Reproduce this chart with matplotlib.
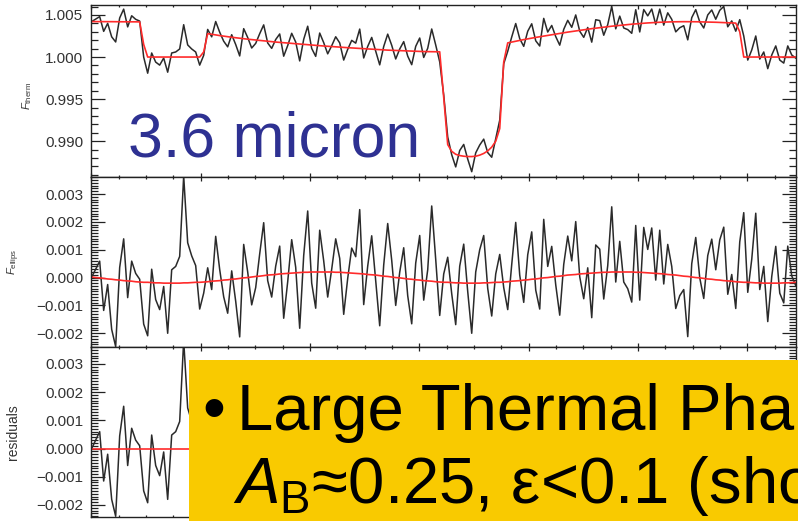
import numpy as np
import matplotlib
matplotlib.use("Agg")
import matplotlib.pyplot as plt
import matplotlib.patches as patches
from matplotlib.ticker import MultipleLocator, FuncFormatter

plt.rcParams['font.family'] = ['Liberation Sans', 'DejaVu Sans']
plt.rcParams['mathtext.fontset'] = 'custom'
plt.rcParams['mathtext.rm'] = 'Liberation Sans'
plt.rcParams['mathtext.it'] = 'Liberation Sans:italic'

# time grid (days), one point per binned frame
n_pts = 177
t = 0.00055 + 0.00732 * np.arange(n_pts)

# thermal phase-curve model, in units of 1e-5 above 1
therm_model = [421, 421, 420, 420, 420, 420, 419, 419, 419, 418, 418, 418,
               417, 150,
               0, 0, 0, 0, 0, 0, 0, 0, 0, 0, 0, 0, 0, 0,
               60,
               278, 270, 262, 255, 248, 241, 235, 229, 223, 217,
               212, 207, 202, 197, 192, 187, 183, 178, 174, 170,
               166, 162, 158, 154, 150, 146, 142, 138, 135, 131,
               128, 124, 121, 118, 114, 111, 108, 105, 102, 99,
               96, 93, 90, 87, 85, 82, 80, 77, 75, 73,
               71, 69, 67, 66, 65, 64, 63, 63, 62,
               -480,
               -1040, -1120, -1155, -1170, -1178, -1182, -1182, -1178, -1165, -1145,
               -1115, -1070, -1000, -850, -60,
               168, 178, 188, 198, 207, 216, 225, 233, 241, 249,
               257, 265, 273, 281, 289, 296, 303, 310, 317, 324,
               331, 337, 343, 349, 355, 361, 366, 371, 376, 381,
               386, 390, 394, 398, 402, 405, 408, 411, 413, 415,
               417, 418, 419, 420, 420, 420, 420, 419, 418, 417,
               416, 415, 413, 411, 409, 407, 405, 403,
               300,
               0, 0, 0, 0, 0, 0, 0, 0, 0, 0, 0, 0, 0, 0]

# ellipsoidal model, units of 1e-5
ellips_model = [2, 0, -1, -3, -5, -6, -8, -9, -11, -12, -13, -15, -16, -17, -17, -18, -19, -19, -20, -20,
                -20, -20, -20, -19, -19, -18, -17, -17, -16, -15, -13, -12, -11, -9, -8, -6, -5, -3, -1,
                0, 2, 4, 5, 7, 9, 10, 11, 13, 14, 15, 16, 17, 18, 19, 19, 20, 20, 20,
                20, 20, 20, 19, 19, 18, 17, 16, 15, 14, 13, 11, 10, 9, 7, 5, 4, 2, 0,
                -1, -3, -5, -6, -8, -9, -11, -12, -13, -15, -16, -17, -17, -18, -19, -19, -20, -20,
                -20, -20, -20, -19, -19, -18, -17, -17, -16, -15, -13, -12, -11, -9, -8, -6, -5, -3, -1,
                0, 2, 4, 5, 7, 9, 10, 11, 13, 14, 15, 16, 17, 18, 19, 19, 20, 20, 20,
                20, 20, 20, 19, 19, 18, 17, 16, 15, 14, 13, 11, 10, 9, 7, 5, 4, 2, 0,
                -1, -3, -5, -6, -8, -9, -11, -12, -13, -15, -16, -17, -17, -18, -19, -19, -20, -20,
                -20, -20, -20, -19, -19, -18, -17]

# residuals, units of 1e-5
resid = [0, 30, 60, -115, -20, -180, -240, 45, 150, -60, 72, 30, 10, -150, -192, 48, -60, -96, -12, -180,
         48, 60, 96, 384,
         144, 96, 60, -96, -40, 50, -30, 160, 40, -60,
         -120, 30, -80, -210, 120, 20, -100, -40, 80, 190,
         -20, -80, 30, 100, -160, -30, 120, 20, -200, 60,
         220, -40, -130, 150, 40, -90, 10, 120, 50, -150,
         -20, 90, 60, 230, -110, 30, 140, -20, -180, 40,
         190, 60, -100, 20, 110, -60, -160, 60, 160, -70,
         40, 270, 80, -120, 30, 90, -40, -150, 60, 140,
         -30, -180, 40, 120, 170, -20, -120, 30, 100, -20,
         -100, 60, 210, 20, -80, 90, 170, -40, -110, 210,
         40, 110, -30, -140, 40, 140, 50, 190, -10, -90,
         20, -160, 100,
         84, -96, 24, 234, -36, 110, -36, -60, -108, 168,
         -100, 162, 84, 162, -24, 156, -36, 108, 30, -120,
         -72, -48, -216, 48, 144, 0, -72, 84, 144, 36,
         144, 192, -48, 24, -96, 144, 250, -36, 84, 250,
         -24, 60, -138, 24, 132, -36, -72, 132, 24, -12]

unit = 1e-5
therm_model = 1 + np.array(therm_model) * unit
ellips_model = np.array(ellips_model) * unit
resid = np.array(resid) * unit
therm_flux = therm_model + resid
ellips_flux = ellips_model + resid

data_col = '#2a2a2a'
model_col = '#ff2b2b'


def fmt(v, pos):
    if abs(v) < 1e-9:
        v = 0.0
    return f"{v:.3f}".replace('-', '\u2212')


def style(ax, ymaj, ymin, ylim):
    ax.set_xlim(0, 1.2902)
    ax.set_ylim(*ylim)
    ax.xaxis.set_major_locator(MultipleLocator(0.2))
    ax.xaxis.set_minor_locator(MultipleLocator(0.05))
    ax.yaxis.set_major_locator(MultipleLocator(ymaj))
    ax.yaxis.set_minor_locator(MultipleLocator(ymin))
    ax.yaxis.set_major_formatter(FuncFormatter(fmt))
    ax.tick_params(axis='both', which='both', direction='in', top=True, right=True,
                   labelbottom=False, width=0.9, color='#222222')
    ax.tick_params(axis='y', which='major', length=10, pad=6, labelsize=11,
                   labelcolor='#333333')
    ax.tick_params(axis='y', which='minor', length=5)
    ax.tick_params(axis='x', which='major', length=2.6)
    ax.tick_params(axis='x', which='minor', length=1.4)
    for s in ax.spines.values():
        s.set_linewidth(1.0)
        s.set_color('#222222')


fig = plt.figure(figsize=(7.98, 5.21), dpi=100)
left, width = 0.1145, 0.9981 - 0.1145

ax1 = fig.add_axes([left, 0.6612, width, 0.9904 - 0.6612])
ax2 = fig.add_axes([left, 0.3346, width, 0.6612 - 0.3346])
ax3 = fig.add_axes([left, 0.00825, width, 0.3346 - 0.00825])

ax1.plot(t, therm_flux, color=data_col, lw=1.1)
ax1.plot(t, therm_model, color=model_col, lw=1.2)
style(ax1, 0.005, 0.001, (0.98581, 1.00618))
ax1.set_ylabel(r'$F_{\rm therm}$', fontsize=8, color='#333333')
ax1.yaxis.set_label_coords(-0.082, 0.47)

ax2.plot(t, ellips_flux, color=data_col, lw=1.1)
ax2.plot(t, ellips_model, color=model_col, lw=1.2)
style(ax2, 0.001, 0.0001, (-0.002481, 0.003628))
ax2.set_ylabel(r'$F_{\rm ellips}$', fontsize=8, color='#333333')
ax2.yaxis.set_label_coords(-0.099, 0.5)

ax3.plot(t, resid, color=data_col, lw=1.1)
ax3.axhline(0, color=model_col, lw=1.2)
style(ax3, 0.001, 0.0001, (-0.002415, 0.003613))
ax3.set_ylabel('residuals', fontsize=10, color='#333333')
ax3.yaxis.set_label_coords(-0.101, 0.5)

fig.text(0.1598, 0.6992, '3.6 micron', fontsize=45, color='#2e3192', va='baseline', zorder=10)

fig.add_artist(patches.Rectangle((0.2372, 0), 1 - 0.2372, 0.3090, transform=fig.transFigure,
                                 facecolor='#f9ca00', edgecolor='none', zorder=5))
fig.text(0.253, 0.1747, '\u2022', fontsize=47, color='black', va='baseline', zorder=6)
fig.text(0.297, 0.1747, 'Large Thermal Pha', fontsize=47, color='black', va='baseline', zorder=6)
fig.text(0.292, 0.0346, '$\\mathit{A}_{\\mathrm{B}}$\u22480.25, \u03b5<0.1 (sho', fontsize=47,
         color='black', va='baseline', zorder=6)

fig.savefig('out.png', dpi=100)
